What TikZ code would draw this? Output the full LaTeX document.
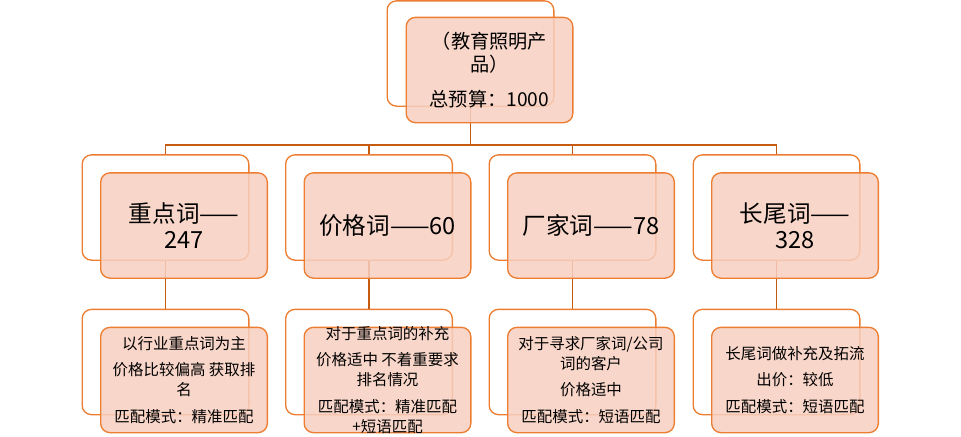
\documentclass[tikz,border=0pt]{standalone}
\usepackage{fontspec}
\setmainfont{Noto Sans CJK SC}
\usetikzlibrary{positioning}
\usepackage{xcolor}
\definecolor{boxorange}{RGB}{237,125,49}
\definecolor{linkbrown}{RGB}{197,90,17}
\definecolor{boxpink}{RGB}{247,207,192}

\begin{document}
\begin{tikzpicture}[
    x=0.75pt, y=-0.75pt,
    back/.style={rectangle, rounded corners=7pt, draw=boxorange, line width=1pt,
                 fill=white, minimum width=125pt, minimum height=79pt, inner sep=0pt},
    front/.style={back, fill=boxpink, fill opacity=0.85, text opacity=1, align=center},
    link/.style={draw=linkbrown, line width=0.8pt},
    big/.style={font=\fontsize{17.7}{19.5}\selectfont},
    mid/.style={font=\fontsize{14.4}{17.2}\selectfont},
    note/.style={align=center, inner sep=0pt, font=\fontsize{11.6}{15}\selectfont}
]
\useasboundingbox (0,0) rectangle (961,436);

% Back boxes
\node[back] (topb) at (470.5,53.5) {};
\node[back] (k1b) at (165.5,207.5) {};
\node[back] (k2b) at (369,207.5) {};
\node[back] (k3b) at (572.5,207.5) {};
\node[back] (k4b) at (776.5,207.5) {};
\node[back] (d1b) at (165.5,362) {};
\node[back] (d2b) at (369,362) {};
\node[back] (d3b) at (572.5,362) {};
\node[back] (d4b) at (776.5,362) {};

% Links
\coordinate (bus) at (470.5,145);
\draw[link] (topb.south) -- (bus);
\draw[link] (bus) -| (k1b.north);
\draw[link] (bus) -| (k2b.north);
\draw[link] (bus) -| (k3b.north);
\draw[link] (bus) -| (k4b.north);
\draw[link] (k1b.south) -- (d1b.north);
\draw[link] (k2b.south) -- (d2b.north);
\draw[link] (k3b.south) -- (d3b.north);
\draw[link] (k4b.south) -- (d4b.north);

% Front boxes
\node[front, mid] (topf) at (489.5,70) {（教育照明产\\品）\\[9pt]总预算：1000};
\node[front, big] (k1f) at (184,225.5) {重点词——\\247};
\node[front, big] (k2f) at (387.5,225.5) {价格词——60};
\node[front, big] (k3f) at (591,225.5) {厂家词——78};
\node[front, big] (k4f) at (795,225.5) {长尾词——\\328};
\node[front] (d1f) at (184,380) {};
\node[front] (d2f) at (387.5,380) {};
\node[front] (d3f) at (591,380) {};
\node[front] (d4f) at (795,380) {};

% Details
\node[note] (d1t) at (d1f) {以行业重点词为主\\[5pt]价格比较偏高 获取排\\名\\[5pt]匹配模式：精准匹配};
\node[note] (d2t) at (d2f) {对于重点词的补充\\[5pt]价格适中 不着重要求\\排名情况\\[5pt]匹配模式：精准匹配\\+短语匹配};
\node[note] (d3t) at (d3f) {对于寻求厂家词/公司\\词的客户\\[5pt]价格适中\\[5pt]匹配模式：短语匹配};
\node[note] (d4t) at (d4f) {长尾词做补充及拓流\\[5pt]出价：较低\\[5pt]匹配模式：短语匹配};

\end{tikzpicture}
\end{document}
